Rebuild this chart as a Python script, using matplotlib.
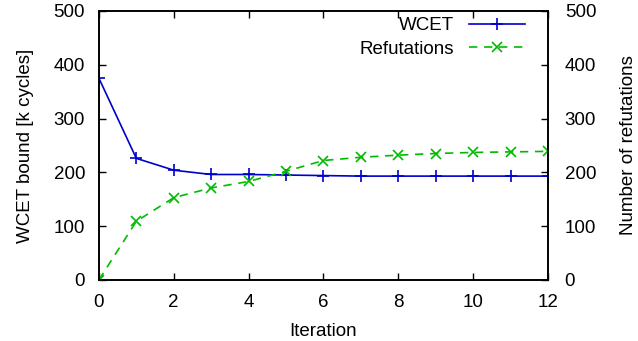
import numpy as np
import matplotlib.pyplot as plt

plt.rcParams['font.family'] = ['Liberation Sans', 'DejaVu Sans']
plt.rcParams['font.size'] = 13.5

iterations = np.arange(13)
wcet = [375, 226, 204, 196, 196, 195, 194, 193, 193, 193, 193, 193, 193]
refutations = [0, 109, 153, 171, 183, 202, 222, 228, 232, 235, 237, 238, 239]

fig = plt.figure(figsize=(6.38, 3.41), dpi=100)
ax = fig.add_axes([0.155, 0.179, 0.704, 0.789])
ax2 = ax.twinx()

l1, = ax.plot(iterations, wcet, color='#0000cc', marker='+', markersize=8,
              markeredgewidth=1.2, linewidth=1.2, label='WCET')
l2, = ax2.plot(iterations, refutations, color='#00bb00', marker='x', markersize=7,
               markeredgewidth=1.2, linewidth=1.2, dashes=(5, 4), label='Refutations')

ax.set_xlim(0, 12)
ax.set_ylim(0, 500)
ax2.set_ylim(0, 500)
ax.set_xticks(range(0, 13, 2))
ax.set_yticks(range(0, 501, 100))
ax2.set_yticks(range(0, 501, 100))

ax.set_xlabel('Iteration', labelpad=9)
ax.set_ylabel('WCET bound [k cycles]', labelpad=14)
ax2.set_ylabel('Number of refutations', labelpad=17)

ax.tick_params(axis='x', direction='in', top=True, length=5, width=1, pad=10)
ax.tick_params(axis='y', direction='in', length=5, width=1, pad=10)
ax2.tick_params(axis='y', direction='in', length=5, width=1, pad=12)
for a in (ax, ax2):
    for s in a.spines.values():
        s.set_linewidth(1.2)

leg = ax.legend([l1, l2], ['WCET', 'Refutations'], loc='upper right',
                frameon=False, markerfirst=False, handlelength=3.0,
                borderaxespad=0.0, labelspacing=0.35, bbox_to_anchor=(0.965, 1.005))
for t in leg.get_texts():
    t.set_ha('right')

fig.savefig('out.png', dpi=100)
